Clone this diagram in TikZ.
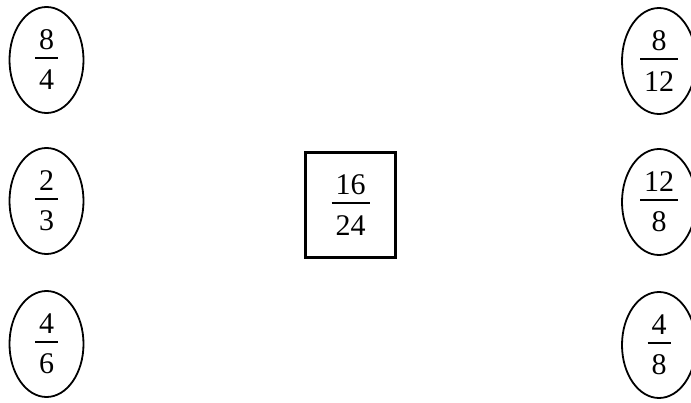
\documentclass[tikz,border=0pt]{standalone}
\usepackage{fontspec}
\setmainfont{Liberation Serif}
\usetikzlibrary{shapes.geometric}
\newcommand\myfr[2]{%
  \setbox0=\hbox{#1}\setbox2=\hbox{#2}%
  \dimen0=\ifdim\wd0>\wd2 \wd0\else\wd2\fi
  \advance\dimen0 by 8pt
  \vbox{\hbox to\dimen0{\hss\box0\hss}\kern7pt\hrule height 2pt\kern11pt
        \hbox to\dimen0{\hss\box2\hss}}}
\tikzset{
  fr/.style={inner sep=0pt, line width=1.8pt, font=\fontsize{30}{36}\selectfont},
  oval/.style={fr, draw, ellipse, minimum width=74pt, minimum height=106pt},
  sq/.style={fr, draw, rectangle, line width=2.2pt, minimum width=90pt, minimum height=105pt}
}
\begin{document}
\begin{tikzpicture}[x=1pt,y=-1pt]
\useasboundingbox (0,0) rectangle (691,403);
\clip (0,0) rectangle (691,403);
\node[oval] (l1) at (46.5,60) {\myfr{8}{4}};
\node[oval] (l2) at (46.5,201) {\myfr{2}{3}};
\node[oval] (l3) at (46.5,344) {\myfr{4}{6}};
\node[oval] (r1) at (659,61) {\myfr{8}{12}};
\node[oval] (r2) at (659,202) {\myfr{12}{8}};
\node[oval] (r3) at (659,345) {\myfr{4}{8}};
\node[sq] (c) at (350.5,205) {\myfr{16}{24}};
\end{tikzpicture}
\end{document}
